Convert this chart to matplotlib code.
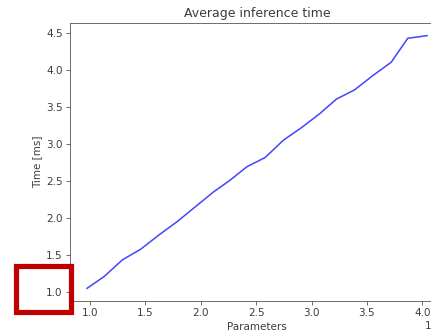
import matplotlib
matplotlib.use("Agg")
import matplotlib.pyplot as plt
from matplotlib.patches import Rectangle
import numpy as np

# parameter count (x 1e7) and average inference time in ms
params = np.array([0.973, 1.129, 1.293, 1.458, 1.623, 1.787, 1.952, 2.117, 2.266, 2.416,
                   2.581, 2.746, 2.910, 3.075, 3.225, 3.389, 3.554, 3.719, 3.868, 4.042]) * 1e7
times = [1.045, 1.207, 1.431, 1.575, 1.768, 1.948, 2.150, 2.352, 2.510, 2.690,
         2.815, 3.050, 3.220, 3.410, 3.606, 3.731, 3.925, 4.104, 4.428, 4.464]

W, H, DPI = 431, 334, 75
GREY = "#3c3c3c"


def main():
    plt.rcParams.update({
        "text.color": GREY,
        "axes.labelcolor": GREY,
        "axes.edgecolor": "#555555",
        "xtick.color": "#555555",
        "ytick.color": "#555555",
        "xtick.labelcolor": GREY,
        "ytick.labelcolor": GREY,
    })
    fig = plt.figure(figsize=(W / DPI, H / DPI), dpi=DPI)
    # axes run past the right edge, as in the cropped screenshot
    ax = fig.add_axes([70 / W, 33 / H, 374 / W, 278 / H])
    ax.plot(params, times, color="blue", alpha=0.72, lw=1.5)
    ax.set_title("Average inference time")
    ax.set_xlabel("Parameters")
    ax.set_ylabel("Time [ms]")

    # red highlight box drawn over the figure
    fig.patches.append(Rectangle((16 / W, 22 / H), 55 / W, 46 / H, transform=fig.transFigure,
                                 fill=False, edgecolor="#c00000", lw=5.0, zorder=10))
    fig.savefig("out.png", dpi=DPI)


if __name__ == "__main__":
    main()
